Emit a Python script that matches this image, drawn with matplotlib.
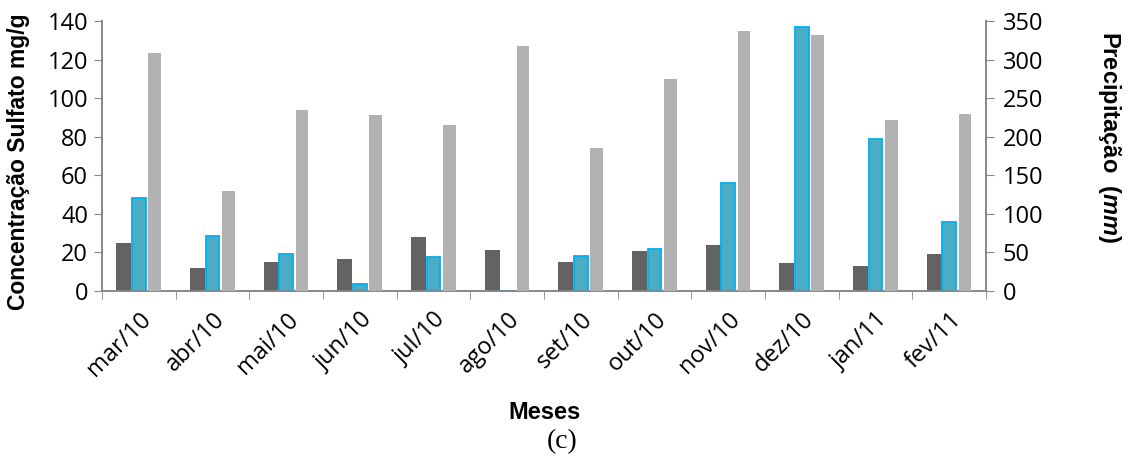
import numpy as np
import matplotlib
matplotlib.use("Agg")
import matplotlib.pyplot as plt

meses = ['mar/10', 'abr/10', 'mai/10', 'jun/10', 'jul/10', 'ago/10',
         'set/10', 'out/10', 'nov/10', 'dez/10', 'jan/11', 'fev/11']
# concentracao sulfato (mg/g), eixo esquerdo
sulfato_a = [25.1, 11.8, 15.1, 16.8, 28.0, 21.1, 15.1, 20.8, 24.0, 14.7, 13.0, 19.2]
sulfato_b = [48.1, 28.4, 19.0, 3.5, 17.8, 0, 18.0, 21.8, 56.1, 137.0, 78.9, 35.8]
# precipitacao (mm), eixo direito
precip = [309, 129, 235, 228, 215, 317, 185, 275, 337, 332, 222, 230]

plt.rcParams['mathtext.fontset'] = 'custom'
plt.rcParams['mathtext.bfit'] = 'Liberation Sans:bold:italic'

fig = plt.figure(figsize=(11.28, 4.63), dpi=100)
ax = fig.add_axes([102/1128, 1 - 291/463, (986-102)/1128, (291-21)/463])
ax2 = ax.twinx()

x = np.arange(len(meses))
w = 0.205
ax.bar(x - w, sulfato_a, w, color='#636363', zorder=3)
ax.bar(x, sulfato_b, w - 0.02, color='#4BACC6', edgecolor='#00B0F0', linewidth=1.3, zorder=3)
ax2.bar(x + w + 0.01, precip, w - 0.03, color='#B2B2B2', zorder=3)

ax.set_xlim(-0.5, len(meses) - 0.5)
ax.set_ylim(0, 140)
ax2.set_ylim(0, 350)
ax.set_yticks(range(0, 141, 20))
ax2.set_yticks(range(0, 351, 50))

ax.set_xticks(x)
ax.set_xticklabels(meses, rotation=45, ha='right', rotation_mode='anchor',
                   fontsize=17, family='Open Sans')
ax.set_xticks(np.arange(-0.5, len(meses)), minor=True)
ax.tick_params(axis='x', which='major', length=0, pad=12)
ax.tick_params(axis='x', which='minor', length=6, color='#888888', direction='out')

for a in (ax, ax2):
    a.spines['top'].set_visible(False)
    for s in ['left', 'right', 'bottom']:
        a.spines[s].set_color('#888888')
        a.spines[s].set_linewidth(1.2)
ax.tick_params(axis='y', length=6, color='#888888', labelsize=17, pad=4)
ax2.tick_params(axis='y', length=6, color='#888888', labelsize=17, pad=6)
for lab in ax.get_yticklabels() + ax2.get_yticklabels():
    lab.set_family('Open Sans')

ax.set_ylabel('Concentração Sulfato mg/g', fontsize=16.5, fontweight='bold',
              family='Liberation Sans', va='center')
ax.yaxis.set_label_coords(-0.095, 0.48)
ax2.set_ylabel('Precipitação  ($\\mathbfit{mm}$)', fontsize=17, fontweight='bold',
               family='Liberation Sans', rotation=270, va='center')
ax2.yaxis.set_label_coords(1.14, 0.57)
ax.set_xlabel('Meses', fontsize=17, fontweight='bold', family='Liberation Sans', labelpad=14)

fig.text(562/1128, 1 - 442/463, '(c)', fontsize=20, family='Liberation Serif',
         ha='center', va='center')

fig.savefig('out.png', dpi=100)
